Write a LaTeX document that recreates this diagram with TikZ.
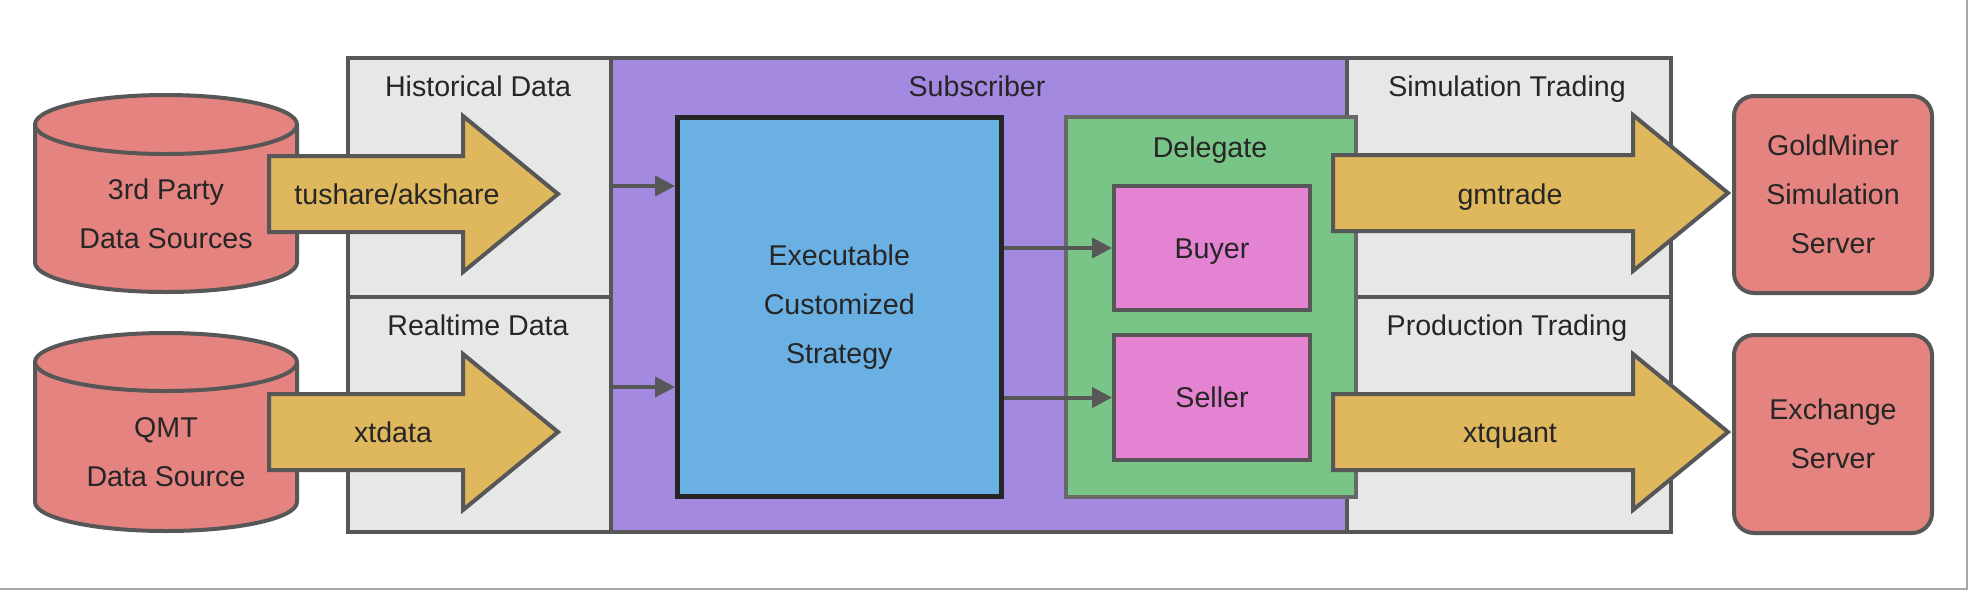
\documentclass[tikz,border=0pt]{standalone}
\usepackage{fontspec}
\setmainfont{Liberation Sans}
\usetikzlibrary{arrows.meta,positioning}

\definecolor{dbred}{HTML}{E48380}
\definecolor{pipe}{HTML}{DFB75C}
\definecolor{panel}{HTML}{E6E8E7}
\definecolor{subpurple}{HTML}{A389E0}
\definecolor{stratblue}{HTML}{6AB0E3}
\definecolor{delgreen}{HTML}{79C487}
\definecolor{rolepink}{HTML}{E383D1}
\definecolor{edge}{HTML}{575757}
\definecolor{ink}{HTML}{262626}

\tikzset{
  box/.style={draw=edge, line width=4pt, inner sep=0pt, anchor=north west},
  fat/.style={draw=edge, fill=pipe, line width=4pt, line join=miter},
  drum/.style={draw=edge, fill=dbred, line width=4pt},
  txt/.style={text=ink, font=\fontsize{28.6}{49}\selectfont, align=center},
  one/.style={txt, text height=20pt, text depth=0pt},
  conn/.style={draw=edge, line width=4pt, -{Triangle[length=20pt,width=20pt]}},
}

% big block arrow: left end, head base, tip, centre line
\newcommand{\fatarrow}[4]{%
  \draw[fat] (#1,#4-38) -- (#2,#4-38) -- (#2,#4-78) -- (#3,#4)
    -- (#2,#4+78) -- (#2,#4+38) -- (#1,#4+38) -- cycle;}

\begin{document}
\begin{tikzpicture}[x=1pt, y=-1pt]
    \useasboundingbox (0,0) rectangle (1968,590);

    % data sources
    \draw[drum] (35,124.5) -- (35,262.5)
        arc[start angle=180, end angle=360, x radius=131pt, y radius=29.5pt]
        -- (297,124.5)
        arc[start angle=0, end angle=180, x radius=131pt, y radius=29.5pt] -- cycle;
    \draw[drum, fill=none] (35,124.5)
        arc[start angle=180, end angle=360, x radius=131pt, y radius=29.5pt];
    \draw[drum] (35,362) -- (35,502)
        arc[start angle=180, end angle=360, x radius=131pt, y radius=29pt]
        -- (297,362)
        arc[start angle=0, end angle=180, x radius=131pt, y radius=29pt] -- cycle;
    \draw[drum, fill=none] (35,362)
        arc[start angle=180, end angle=360, x radius=131pt, y radius=29pt];
    \node[txt] (third) at (166,214) {3rd Party\\Data Sources};
    \node[txt] (qmt)   at (166,452) {QMT\\Data Source};

    % panels
    \node[box, fill=panel, minimum width=263pt, minimum height=239pt] (hist) at (346,56) {};
    \node[box, fill=panel, minimum width=263pt, minimum height=235pt] (real) at (346,295) {};
    \node[box, fill=subpurple, minimum width=736pt, minimum height=474pt] (sub) at (609,56) {};
    \node[box, fill=panel, minimum width=324pt, minimum height=239pt] (simu) at (1345,56) {};
    \node[box, fill=panel, minimum width=324pt, minimum height=235pt] (prod) at (1345,295) {};

    \node[one] (histlbl) at (478,86)  {Historical Data};
    \node[one] (reallbl) at (478,325) {Realtime Data};
    \node[one] (sublbl)  at (977,86)  {Subscriber};
    \node[one] (simulbl) at (1507,86)  {Simulation Trading};
    \node[one] (prodlbl) at (1507,325) {Production Trading};

    % strategy and delegate
    \node[box, txt, draw=ink, line width=4.5pt, fill=stratblue,
          minimum width=324pt, minimum height=379pt] (strat) at (675,115)
          {Executable\\Customized\\Strategy};
    \node[box, fill=delgreen, draw=edge!90, minimum width=290pt, minimum height=380pt] (deleg) at (1064,115) {};
    \node[one] (deleglbl) at (1210,147) {Delegate};
    \node[box, one, fill=rolepink, minimum width=196pt, minimum height=124pt] (buyer) at (1112,184) {Buyer};
    \node[box, one, fill=rolepink, minimum width=196pt, minimum height=125pt] (seller) at (1112,333) {Seller};

    % data and trading channels
    \fatarrow{269}{463}{558}{194}
    \fatarrow{269}{463}{558}{432}
    \fatarrow{1333}{1633}{1728}{193}
    \fatarrow{1333}{1633}{1728}{432}
    \node[one] (tushare) at (397,194) {tushare/akshare};
    \node[one] (xtdata)  at (393,432) {xtdata};
    \node[one] (gmtrade) at (1510,194) {gmtrade};
    \node[one] (xtquant) at (1510,432) {xtquant};

    % servers
    \node[box, txt, fill=dbred, rounded corners=20pt,
          minimum width=198pt, minimum height=197pt] (gold) at (1732,94)
          {GoldMiner\\Simulation\\Server};
    \node[box, txt, fill=dbred, rounded corners=20pt,
          minimum width=198pt, minimum height=198pt] (exch) at (1732,333)
          {Exchange\\Server};

    % feeds
    \coordinate (inhist) at (609,186);
    \coordinate (inreal) at (609,387);
    \draw[conn] (inhist) -- (inhist -| strat.west);
    \draw[conn] (inreal) -- (inreal -| strat.west);
    \draw[conn] (strat.east |- buyer.west) -- (buyer.west);
    \draw[conn] (strat.east |- seller.west) -- (seller.west);

    \draw[gray!70, line width=2pt] (0,589) -- (1967,589) -- (1967,0);
\end{tikzpicture}
\end{document}
